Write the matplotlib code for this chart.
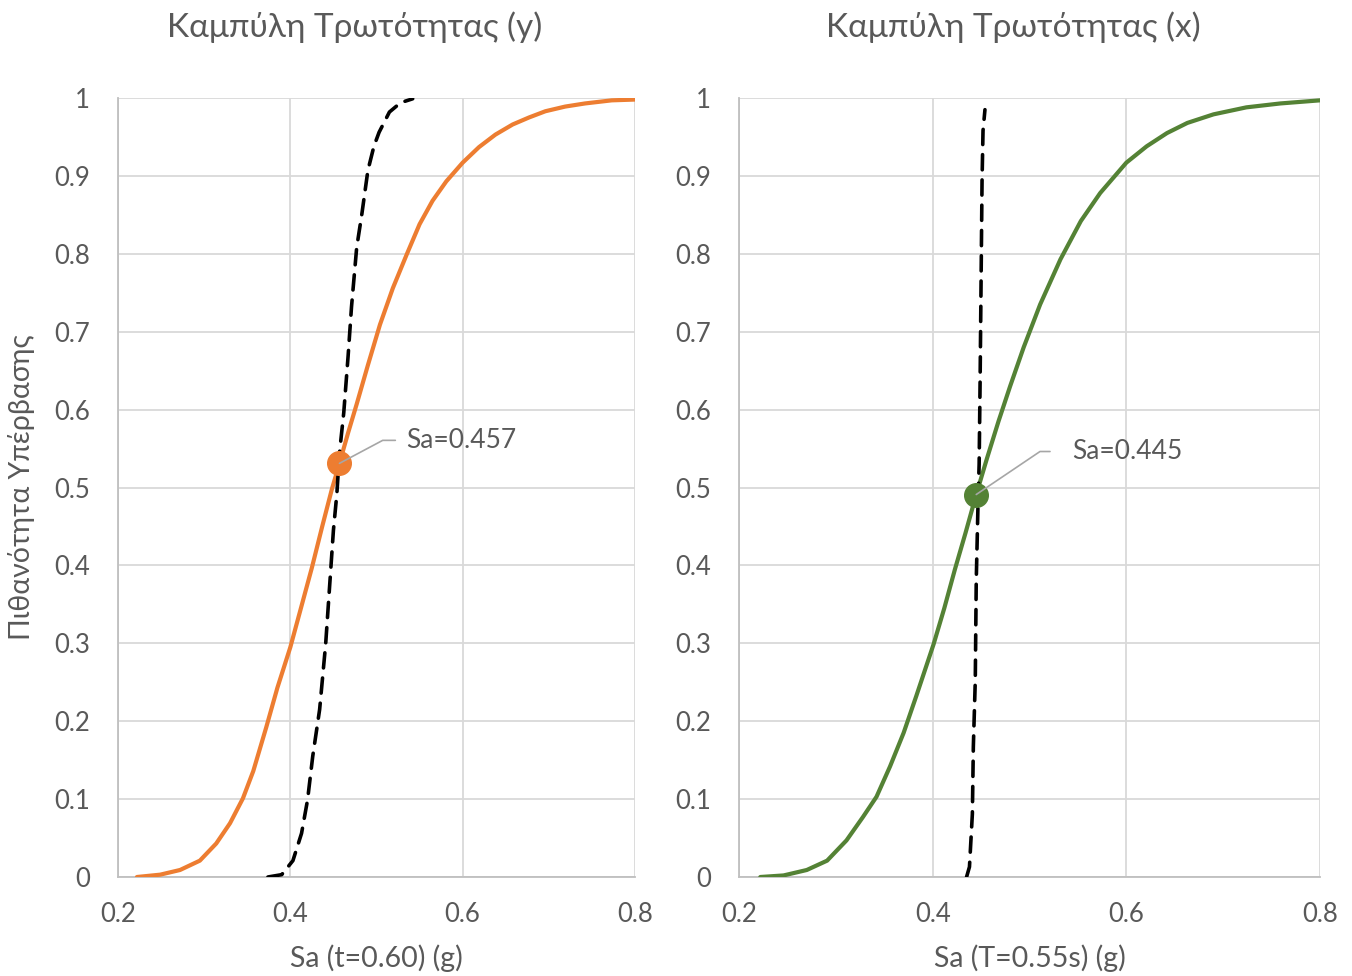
import numpy as np
import matplotlib
matplotlib.use("Agg")
import matplotlib.pyplot as plt

plt.rcParams['font.family'] = ['Lato', 'Open Sans', 'DejaVu Sans']

# Left panel (y direction)
fy_x = [0.222, 0.249, 0.272, 0.295, 0.314, 0.330, 0.345, 0.357, 0.372, 0.385,
        0.400, 0.413, 0.425, 0.437, 0.448, 0.457, 0.467, 0.477, 0.490, 0.504,
        0.519, 0.535, 0.550, 0.565, 0.581, 0.600, 0.619, 0.638, 0.658, 0.677,
        0.696, 0.719, 0.742, 0.773, 0.800]
fy_p = [0.000, 0.003, 0.009, 0.021, 0.043, 0.069, 0.101, 0.136, 0.192, 0.243,
        0.295, 0.348, 0.397, 0.450, 0.497, 0.531, 0.570, 0.607, 0.657, 0.709,
        0.756, 0.799, 0.838, 0.868, 0.893, 0.917, 0.937, 0.953, 0.966, 0.975,
        0.983, 0.989, 0.993, 0.997, 0.998]
dy_x = [0.374, 0.390, 0.403, 0.413, 0.420, 0.426, 0.434, 0.441, 0.446, 0.450,
        0.454, 0.457, 0.462, 0.467, 0.471, 0.477, 0.483, 0.490, 0.497, 0.503,
        0.515, 0.528, 0.542]
dy_p = [0.000, 0.003, 0.021, 0.056, 0.099, 0.155, 0.215, 0.299, 0.380, 0.445,
        0.492, 0.544, 0.596, 0.668, 0.732, 0.808, 0.851, 0.907, 0.938, 0.956,
        0.982, 0.994, 0.999]
pt_y = (0.457, 0.531)

# Right panel (x direction)
fx_x = [0.222, 0.246, 0.270, 0.291, 0.311, 0.328, 0.342, 0.356, 0.370, 0.383,
        0.401, 0.412, 0.423, 0.434, 0.445, 0.456, 0.468, 0.480, 0.494, 0.511,
        0.532, 0.553, 0.573, 0.600, 0.621, 0.642, 0.663, 0.690, 0.724, 0.759,
        0.800]
fx_p = [0.000, 0.002, 0.009, 0.021, 0.047, 0.077, 0.103, 0.142, 0.185, 0.232,
        0.299, 0.345, 0.395, 0.442, 0.491, 0.537, 0.585, 0.630, 0.680, 0.735,
        0.793, 0.842, 0.878, 0.917, 0.938, 0.955, 0.968, 0.979, 0.988, 0.993,
        0.997]
dx_x = [0.435, 0.438, 0.441, 0.442, 0.444, 0.445, 0.447, 0.448, 0.449, 0.450,
        0.451, 0.452, 0.454]
dx_p = [0.000, 0.013, 0.081, 0.167, 0.252, 0.380, 0.488, 0.530, 0.638, 0.766,
        0.894, 0.958, 0.985]
pt_x = (0.445, 0.491)

xticks = [0.2, 0.4, 0.6, 0.8]
yticks = [0, 0.1, 0.2, 0.3, 0.4, 0.5, 0.6, 0.7, 0.8, 0.9, 1]
ytick_labels = ['0', '0.1', '0.2', '0.3', '0.4', '0.5', '0.6', '0.7', '0.8', '0.9', '1']

txt = '#595959'
grid = '#D9D9D9'

fig = plt.figure(figsize=(13.52, 9.76), dpi=100)
ax1 = fig.add_axes([118/1352, 1 - 877/976, 517/1352, 779/976])
ax2 = fig.add_axes([739/1352, 1 - 877/976, 581/1352, 779/976])


def style(ax):
    ax.set_xlim(0.2, 0.8)
    ax.set_ylim(0, 1)
    ax.set_xticks(xticks)
    ax.set_xticklabels([str(t) for t in xticks])
    ax.set_yticks(yticks)
    ax.set_yticklabels(ytick_labels)
    ax.tick_params(length=0, labelsize=18.5, colors=txt)
    ax.tick_params(axis='y', pad=20)
    ax.tick_params(axis='x', pad=18)
    ax.grid(True, color=grid, lw=1.3)
    ax.set_axisbelow(True)
    for s in ['top', 'right']:
        ax.spines[s].set_visible(False)
    for s in ['left', 'bottom']:
        ax.spines[s].set_color('#BFBFBF')
        ax.spines[s].set_linewidth(1.3)


style(ax1)
style(ax2)

ax1.plot(fy_x, fy_p, color='#ED7D31', lw=3, solid_capstyle='round',
         solid_joinstyle='round', zorder=3)
ax1.plot(dy_x, dy_p, color='black', lw=2.6, dashes=(4.2, 2.8),
         dash_capstyle='round', zorder=4)
ax1.plot(*pt_y, 'o', color='#ED7D31', ms=17, zorder=5)
ax1.annotate('Sa=0.457', xy=pt_y, xytext=(67, 23), textcoords='offset pixels',
             fontsize=19, color=txt, va='center', ha='left',
             arrowprops=dict(arrowstyle='-', color='#A6A6A6', lw=1.2,
                             shrinkA=6, shrinkB=0,
                             connectionstyle='angle,angleA=0,angleB=28'),
             zorder=6)

ax2.plot(fx_x, fx_p, color='#548235', lw=3, solid_capstyle='round',
         solid_joinstyle='round', zorder=3)
ax2.plot(dx_x, dx_p, color='black', lw=2.6, dashes=(4.2, 2.8),
         dash_capstyle='round', zorder=4)
ax2.plot(*pt_x, 'o', color='#548235', ms=17, zorder=5)
ax2.annotate('Sa=0.445', xy=pt_x, xytext=(96, 43), textcoords='offset pixels',
             fontsize=19, color=txt, va='center', ha='left',
             arrowprops=dict(arrowstyle='-', color='#A6A6A6', lw=1.2,
                             shrinkA=14, shrinkB=0,
                             connectionstyle='angle,angleA=0,angleB=34'),
             zorder=6)

ax1.set_xlabel('Sa (t=0.60) (g)', fontsize=20.5, color=txt)
ax2.set_xlabel('Sa (T=0.55s) (g)', fontsize=20.5, color=txt)
ax1.xaxis.set_label_coords(0.5, -(958 - 877) / 779)
ax2.xaxis.set_label_coords(0.5, -(958 - 877) / 779)
ax1.xaxis.label.set_va('center')
ax2.xaxis.label.set_va('center')
ax1.set_ylabel('Πιθανότητα Υπέρβασης', fontsize=20.5, color=txt, va='center')
ax1.yaxis.set_label_coords((22 - 118) / 517, 0.5)

fig.text(355/1352, 1 - 27/976, 'Καμπύλη Τρωτότητας (y)', fontsize=24,
         color=txt, ha='center', va='center')
fig.text(1013/1352, 1 - 27/976, 'Καμπύλη Τρωτότητας (x)', fontsize=24,
         color=txt, ha='center', va='center')

fig.savefig('out.png', dpi=100)
